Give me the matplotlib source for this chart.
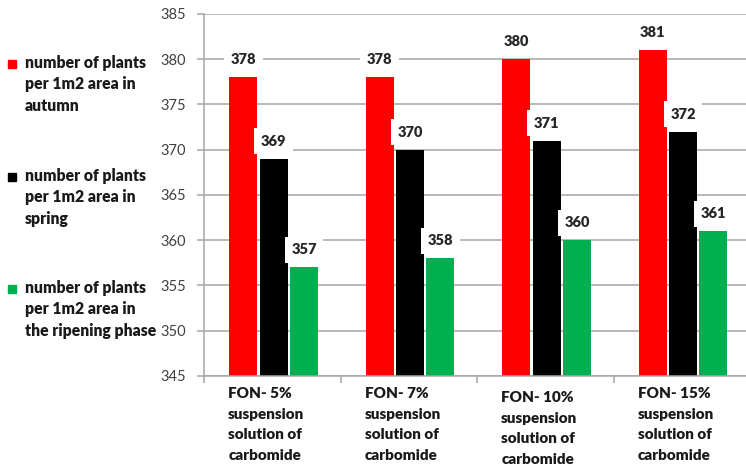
import matplotlib
matplotlib.use("Agg")
import matplotlib.pyplot as plt
from matplotlib.lines import Line2D
import numpy as np

plt.rcParams["font.family"] = ["Lato", "DejaVu Sans"]

# ── data ──────────────────────────────────────────────────────────────────────
categories = [
    "FON- 5%\nsuspension\nsolution of\ncarbomide",
    "FON- 7%\nsuspension\nsolution of\ncarbomide",
    "FON- 10%\nsuspension\nsolution of\ncarbomide",
    "FON- 15%\nsuspension\nsolution of\ncarbomide",
]
series_names = [
    "number of plants\nper 1m2 area in\nautumn",
    "number of plants\nper 1m2 area in\nspring",
    "number of plants\nper 1m2 area in\nthe ripening phase",
]
autumn = [378, 378, 380, 381]
spring = [369, 370, 371, 372]
ripening = [357, 358, 360, 361]
colors = ["#ff0000", "#000000", "#00b050"]
yticks = [345, 350, 355, 360, 365, 370, 375, 380, 385]

# ── figure ────────────────────────────────────────────────────────────────────
fig = plt.figure(figsize=(7.46, 4.68), dpi=100)
ax = fig.add_axes([204 / 746, 1 - 376 / 468, 546 / 746, 362 / 468])

x = np.arange(len(categories))
width = 0.205
step = 0.222
grid_c = "#a6a6a6"
bold = "heavy"

bars = []
for i, vals in enumerate([autumn, spring, ripening]):
    b = ax.bar(x + (i - 1) * step + 0.01, np.array(vals) - 345, width,
               bottom=345, color=colors[i], zorder=2)
    bars.append((b, vals))

# value labels drawn on top with white boxes (like Excel)
for b, vals in bars:
    for rect, v in zip(b, vals):
        ax.annotate(str(v), (rect.get_x() + rect.get_width() / 2, v),
                    xytext=(0, 8), textcoords="offset points",
                    ha="center", va="bottom", fontsize=10.5, fontweight=bold,
                    color="#262626", zorder=5,
                    bbox=dict(boxstyle="square,pad=0.45", fc="white", ec="none"))

ax.set_ylim(345, 385)
ax.set_yticks(yticks)
ax.set_xlim(-0.5, len(categories) - 0.5)
ax.yaxis.grid(True, color=grid_c, linewidth=1.1, zorder=0)
ax.set_axisbelow(True)

for s in ["top", "right"]:
    ax.spines[s].set_visible(False)
for s in ["left", "bottom"]:
    ax.spines[s].set_color(grid_c)
    ax.spines[s].set_linewidth(1.1)

ax.tick_params(axis="y", colors=grid_c, labelcolor="#404040", labelsize=10.5,
               length=5, width=1.1, pad=8)
ax.set_xticks(np.arange(len(categories) + 1) - 0.5)
ax.set_xticklabels([])
ax.tick_params(axis="x", colors=grid_c, length=5, width=1.1)

# category labels, left aligned under each group
label_drop = [0, 0, 4, 0]
for i, cat in enumerate(categories):
    ax.annotate(cat, (x[i] - 1.5 * step + 0.01, 345), xycoords="data",
                xytext=(0, -8 - label_drop[i] * 0.72), textcoords="offset points",
                ha="left", va="top", fontsize=11, fontweight=bold,
                color="#1a1a1a", linespacing=1.68, annotation_clip=False)

# legend on the left
leg_y = [64, 177, 289]
for name, c, y in zip(series_names, colors, leg_y):
    fig.add_artist(Line2D([12 / 746], [1 - y / 468], marker="s", markersize=5.5,
                          color=c, linestyle="none", transform=fig.transFigure))
    fig.text(25 / 746, 1 - (y - 9) / 468, name, ha="left", va="top",
             fontsize=11.3, fontweight=bold, color="#1a1a1a", linespacing=1.42)

fig.savefig("out.png", dpi=100)
